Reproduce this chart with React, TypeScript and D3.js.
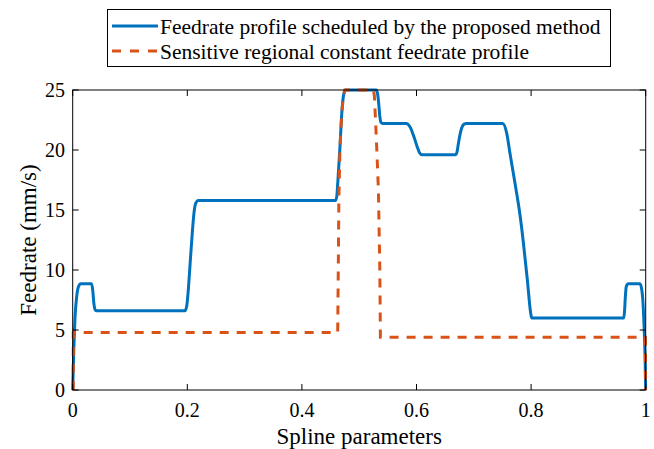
import React from "react";
import * as d3 from "d3";

// Spline parameter (u) and feedrate (mm/s) samples for each profile
const scheduledU = [
  0, 0.002, 0.004, 0.007, 0.010, 0.014, 0.033, 0.035, 0.037, 0.039, 0.041,
  0.196, 0.199, 0.202, 0.205, 0.209, 0.212, 0.215, 0.219,
  0.459, 0.461, 0.4625, 0.4665, 0.4695, 0.4725, 0.476,
  0.530, 0.532, 0.534, 0.536, 0.538, 0.541,
  0.583, 0.586, 0.590, 0.5955, 0.601, 0.605, 0.610,
  0.668, 0.6705, 0.673, 0.676, 0.679, 0.683, 0.687,
  0.7504, 0.7574, 0.7632, 0.772, 0.7806, 0.786, 0.7934, 0.7993, 0.8012,
  0.9617, 0.963, 0.9645, 0.966, 0.968, 0.970,
  0.990, 0.993, 0.995, 0.997, 0.999, 1.0,
];
const scheduledFeed = [
  0, 3.5, 6.0, 7.8, 8.6, 8.85, 8.85, 8.3, 7.2, 6.7, 6.6,
  6.6, 7.0, 8.5, 10.6, 13.3, 14.9, 15.6, 15.8,
  15.8, 16.2, 17.2, 20.3, 23.0, 24.5, 25,
  25, 24.7, 23.9, 22.8, 22.3, 22.2,
  22.2, 22.1, 21.8, 21.1, 20.3, 19.8, 19.6,
  19.6, 19.8, 20.5, 21.3, 21.85, 22.15, 22.2,
  22.2, 21.4, 19.7, 17.2, 14.6, 12.5, 9.2, 6.4, 6.0,
  6.0, 6.5, 7.8, 8.6, 8.8, 8.85,
  8.85, 8.4, 7.5, 5.5, 2.5, 0,
];

const constantU = [
  0.001, 0.001, 0.4625, 0.4635, 0.4645, 0.4665, 0.4695, 0.4725, 0.475,
  0.525, 0.5265, 0.528, 0.5305, 0.5335, 0.536, 0.537, 0.9995, 0.9995,
];
const constantFeed = [
  0, 4.8, 4.8, 10, 16, 20.3, 23.0, 24.6, 25,
  25, 24.5, 23, 20.3, 16.7, 10, 4.4, 4.4, 0,
];

const xTicks = [0, 0.2, 0.4, 0.6, 0.8, 1];
const xTickLabels = ["0", "0.2", "0.4", "0.6", "0.8", "1"];
const yTicks = [0, 5, 10, 15, 20, 25];

const seriesNames = [
  "Feedrate profile scheduled by the proposed method",
  "Sensitive regional constant feedrate profile",
];

const W = 654;
const H = 449;
const plot = { left: 72.7, right: 645.7, top: 90, bottom: 390 };
const FONT = "Liberation Serif, Tinos, DejaVu Serif, Noto Serif, serif";
const BLUE = "#0072BD";
const ORANGE = "#D95319";
const txt = { fontFamily: FONT };

export default function App() {
  const x = d3.scaleLinear().domain([0, 1]).range([plot.left, plot.right]);
  const y = d3.scaleLinear().domain([0, 25]).range([plot.bottom, plot.top]);

  const line = d3
    .line<[number, number]>()
    .x((d) => x(d[0]))
    .y((d) => y(d[1]))
    .curve(d3.curveMonotoneX);
  const straight = d3
    .line<[number, number]>()
    .x((d) => x(d[0]))
    .y((d) => y(d[1]));

  const blueData = scheduledU.map((u, i) => [u, scheduledFeed[i]] as [number, number]);
  const orangeData = constantU.map((u, i) => [u, constantFeed[i]] as [number, number]);

  const tickLen = 6;

  return (
    <svg width={W} height={H} style={{ position: "absolute", left: 0, top: 0, background: "#fff" }}>
      <rect x={0} y={0} width={W} height={H} fill="#fff" />
      <defs>
        <clipPath id="plotClip">
          <rect
            x={plot.left - 2}
            y={plot.top - 2}
            width={plot.right - plot.left + 4}
            height={plot.bottom - plot.top + 4}
          />
        </clipPath>
      </defs>

      {/* data lines */}
      <g clipPath="url(#plotClip)">
        <path d={line(blueData) || ""} fill="none" stroke={BLUE} strokeWidth={3} strokeLinejoin="round" />
        <path
          d={straight(orangeData) || ""}
          fill="none"
          stroke={ORANGE}
          strokeWidth={3}
          strokeDasharray="9 8"
        />
      </g>

      {/* axes box */}
      <rect
        x={plot.left}
        y={plot.top}
        width={plot.right - plot.left}
        height={plot.bottom - plot.top}
        fill="none"
        stroke="#000"
        strokeWidth={1}
      />
      {xTicks.map((t, i) => (
        <g key={"xt" + i}>
          <line x1={x(t)} x2={x(t)} y1={plot.bottom} y2={plot.bottom - tickLen} stroke="#000" />
          <line x1={x(t)} x2={x(t)} y1={plot.top} y2={plot.top + tickLen} stroke="#000" />
          <text x={x(t)} y={417} textAnchor="middle" fontSize={20} fill="#000" style={txt}>
            {xTickLabels[i]}
          </text>
        </g>
      ))}
      {yTicks.map((t, i) => (
        <g key={"yt" + i}>
          <line x1={plot.left} x2={plot.left + tickLen} y1={y(t)} y2={y(t)} stroke="#000" />
          <line x1={plot.right} x2={plot.right - tickLen} y1={y(t)} y2={y(t)} stroke="#000" />
          <text x={65} y={y(t)} dy="0.35em" textAnchor="end" fontSize={20} fill="#000" style={txt}>
            {String(t)}
          </text>
        </g>
      ))}

      <text x={(plot.left + plot.right) / 2} y={444} textAnchor="middle" fontSize={23} fill="#000" style={txt}>
        Spline parameters
      </text>
      <text
        transform={`translate(36, ${(plot.top + plot.bottom) / 2}) rotate(-90)`}
        textAnchor="middle"
        fontSize={23}
        fill="#000"
        style={txt}
      >
        Feedrate (mm/s)
      </text>

      {/* legend */}
      <rect x={107.5} y={9.5} width={503} height={57} fill="#fff" stroke="#000" strokeWidth={1} />
      <line x1={112} x2={158} y1={26} y2={26} stroke={BLUE} strokeWidth={3} />
      <line x1={112} x2={158} y1={51} y2={51} stroke={ORANGE} strokeWidth={3} strokeDasharray="9 9" />
      <text x={160} y={26} dy="0.35em" fontSize={21.5} fill="#000" style={txt}>
        {seriesNames[0]}
      </text>
      <text x={160} y={51} dy="0.35em" fontSize={21.5} fill="#000" style={txt}>
        {seriesNames[1]}
      </text>
    </svg>
  );
}
